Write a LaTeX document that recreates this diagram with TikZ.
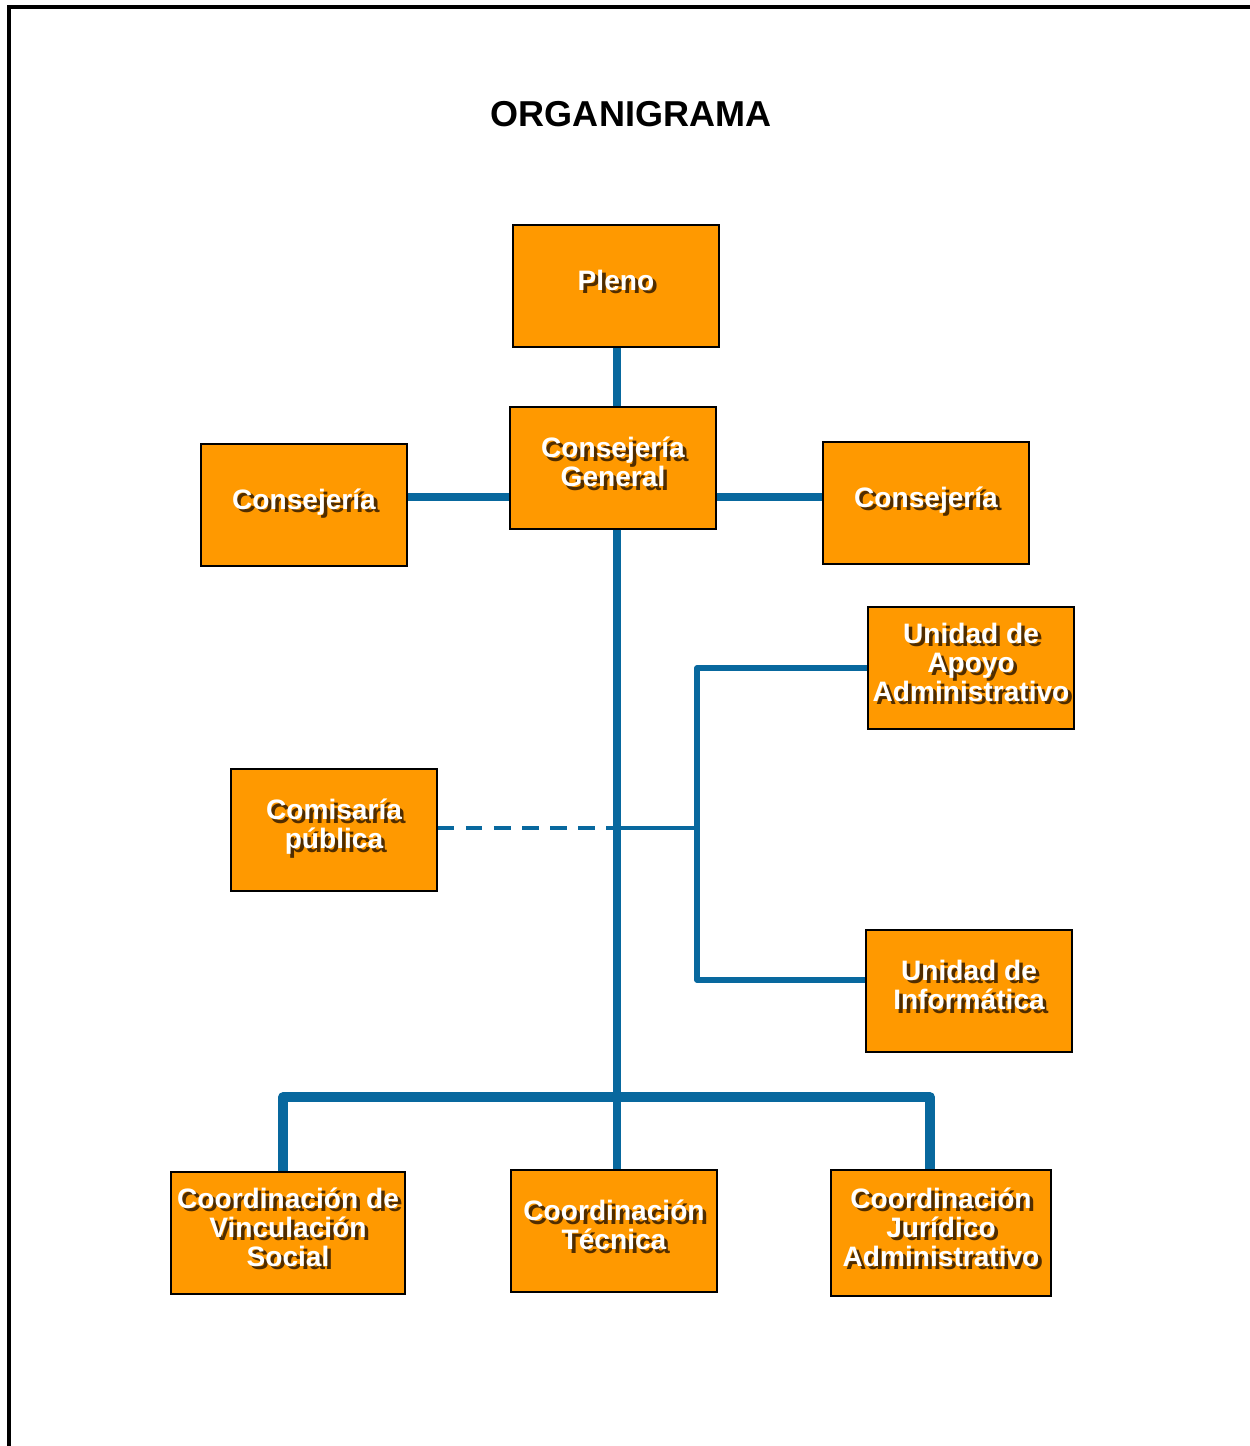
\documentclass[tikz,border=0pt]{standalone}
\usepackage{fontspec}
\setmainfont{Liberation Sans}

\definecolor{naranja}{RGB}{255,153,0}
\definecolor{azul}{RGB}{8,104,158}
\definecolor{sombra}{RGB}{80,45,0}

% Texto blanco con sombra
\newcommand{\sombreado}[1]{%
  \raisebox{4pt}{\makebox[0pt][l]{\raisebox{-2pt}{\hspace{2pt}%
  \textcolor{sombra}{\begin{tabular}{@{}c@{}}#1\end{tabular}}}}%
  \begin{tabular}{@{}c@{}}#1\end{tabular}}}

\tikzset{
  caja/.style={draw=black, line width=0.8pt, fill=naranja, inner sep=0pt,
    minimum width=4.12cm, minimum height=2.44cm, text=white,
    font=\fontsize{16}{16.5}\selectfont\bfseries},
  linea/.style={draw=azul, line width=4.5pt},
  fina/.style={draw=azul, line width=3.2pt},
  discont/.style={draw=azul, line width=2.8pt, dash pattern=on 9.5pt off 6.5pt}
}

\begin{document}
\begin{tikzpicture}[x=0.02cm, y=-0.02cm]

\useasboundingbox (0,0) rectangle (1250,1446);

% Marco
\draw[line width=2.2pt] (9,1446) -- (9,7) -- (1250,7);

% Titulo
\node[font=\fontsize{20.5}{24}\selectfont\bfseries] (titulo) at (631,114) {ORGANIGRAMA};

% Cajas
\node[caja] (pleno) at (616,286) {\sombreado{Pleno}};
\node[caja] (cg) at (613,468) {\sombreado{Consejería\\General}};
\node[caja] (izq) at (304,505) {\sombreado{Consejería}};
\node[caja] (der) at (926,503) {\sombreado{Consejería}};
\node[caja] (apoyo) at (971,668) {\sombreado{Unidad de\\Apoyo\\Administrativo}};
\node[caja] (comisaria) at (334,830) {\sombreado{Comisaría\\pública}};
\node[caja] (info) at (969,991) {\sombreado{Unidad de\\Informática}};
\node[caja, minimum width=4.68cm] (vinc) at (288,1233) {\sombreado{Coordinación de\\Vinculación\\Social}};
\node[caja] (tecnica) at (614,1231) {\sombreado{Coordinación\\Técnica}};
\node[caja, minimum width=4.4cm, minimum height=2.52cm] (jur) at (941,1233) {\sombreado{Coordinación\\Jurídico\\Administrativo}};

% Puntos de apoyo
\coordinate (eje) at (617,828);
\coordinate (h) at (617,497);
\coordinate (bt) at (697,668);
\coordinate (bm) at (697,828);
\coordinate (bb) at (697,980);
\coordinate (b1) at (283,1097);
\coordinate (b2) at (930,1097);

% Tronco
\draw[linea] (pleno.south -| eje) -- (cg.north -| eje);
\draw[linea] (cg.south -| eje) -- (tecnica.north -| eje);

% Consejerias
\draw[linea] (izq.east |- h) -- (cg.west |- h);
\draw[linea] (cg.east |- h) -- (der.west |- h);

% Unidades
\draw[fina, line join=round] (apoyo.west |- bt) -- (bt) -- (bb) -- (info.west |- bb);
\draw[fina, line width=2.4pt] (eje) -- (bm);

% Comisaria
\draw[discont] (comisaria.east |- eje) -- (eje);

% Coordinaciones
\draw[linea, line width=5.5pt, line join=round] (vinc.north -| b1) -- (b1) -- (b2) -- (jur.north -| b2);

\end{tikzpicture}
\end{document}
